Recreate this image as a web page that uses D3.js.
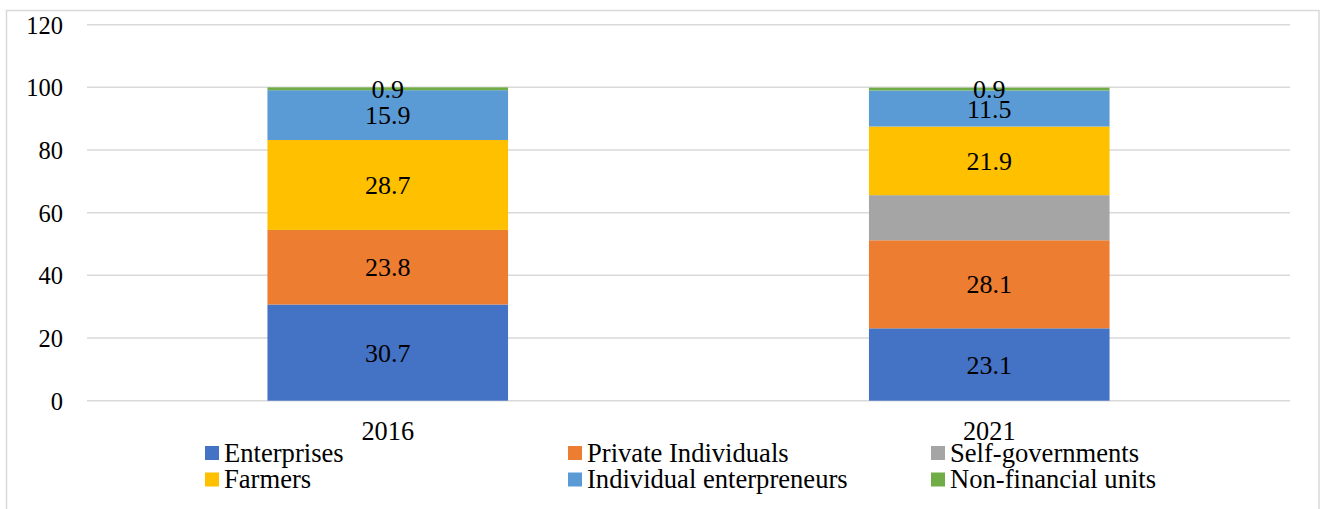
<!DOCTYPE html>
<html>
<head>
<meta charset="utf-8">
<script src="https://cdn.jsdelivr.net/npm/d3@7"></script>
<style>
  html, body { margin: 0; padding: 0; background: #fff; }
  svg { display: block; }
</style>
</head>
<body>
<svg id="chart" width="1320" height="509"></svg>
<script>
// Categories (years) and series shares, %
const years = ["2016", "2021"];
const seriesNames = ["Enterprises", "Private Individuals", "Self-governments",
                     "Farmers", "Individual enterpreneurs", "Non-financial units"];
const enterprises = [30.7, 23.1];
const privateIndividuals = [23.8, 28.1];
const selfGovernments = [0, 14.4];
const farmers = [28.7, 21.9];
const individualEntrepreneurs = [15.9, 11.5];
const nonFinancialUnits = [0.9, 0.9];
// Which segments carry a value label
const showLabel = [true, true, false, true, true, true];
const yTicks = [0, 20, 40, 60, 80, 100, 120];
const colors = ["#4472C4", "#ED7D31", "#A5A5A5", "#FFC000", "#5B9BD5", "#70AD47"];

const FONT = "'Liberation Serif', 'Times New Roman', serif";

const seriesValues = [enterprises, privateIndividuals, selfGovernments,
                      farmers, individualEntrepreneurs, nonFinancialUnits];

const table = years.map((yr, i) => {
  const row = { year: yr };
  seriesNames.forEach((s, k) => { row[s] = seriesValues[k][i]; });
  return row;
});

const svg = d3.select("#chart");

// Outer frame
svg.append("rect")
  .attr("x", 6.5).attr("y", 10.5)
  .attr("width", 1312.5).attr("height", 520)
  .attr("fill", "none").attr("stroke", "#d9d9d9").attr("stroke-width", 1.5);

const plot = { left: 87, right: 1290, top: 24.7, bottom: 400.7 };

const x = d3.scaleBand()
  .domain(years)
  .range([plot.left, plot.right])
  .paddingInner(0.6)
  .paddingOuter(0.3);

const y = d3.scaleLinear()
  .domain([0, 120])
  .range([plot.bottom, plot.top]);

// Gridlines
svg.append("g")
  .selectAll("line")
  .data(yTicks)
  .join("line")
  .attr("x1", plot.left).attr("x2", plot.right)
  .attr("y1", d => y(d)).attr("y2", d => y(d))
  .attr("stroke", "#d9d9d9").attr("stroke-width", 1.5);

// Y axis tick labels
const yAxis = svg.append("g")
  .attr("transform", `translate(${plot.left - 24},0)`)
  .call(d3.axisLeft(y).tickValues(yTicks).tickSize(0).tickPadding(0).tickFormat(d3.format("d")));
yAxis.attr("font-family", null).attr("font-size", null);
yAxis.select(".domain").remove();
yAxis.selectAll("text")
  .style("font-family", FONT)
  .style("font-size", "24.5px").attr("fill", "#000")
  .attr("dy", "0.34em");

// X axis category labels
const xAxis = svg.append("g")
  .attr("transform", `translate(0,${plot.bottom})`)
  .call(d3.axisBottom(x).tickSize(0).tickPadding(0));
xAxis.attr("font-family", null).attr("font-size", null);
xAxis.select(".domain").remove();
xAxis.selectAll("text")
  .style("font-family", FONT)
  .style("font-size", "26.3px").attr("fill", "#000")
  .attr("dy", null)
  .attr("y", 39.5);

// Stacked bars
const stacked = d3.stack().keys(seriesNames)(table);

const layers = svg.append("g")
  .selectAll("g")
  .data(stacked)
  .join("g")
  .attr("fill", (d, i) => colors[i]);

layers.selectAll("rect")
  .data(d => d)
  .join("rect")
  .attr("x", d => x(d.data.year))
  .attr("width", x.bandwidth())
  .attr("y", d => y(d[1]))
  .attr("height", d => y(d[0]) - y(d[1]));

// Value labels centred in each segment
stacked.forEach((layer, k) => {
  if (!showLabel[k]) return;
  svg.append("g")
    .selectAll("text")
    .data(layer)
    .join("text")
    .attr("x", d => x(d.data.year) + x.bandwidth() / 2)
    .attr("y", d => y((d[0] + d[1]) / 2))
    .attr("dy", "0.35em")
    .attr("text-anchor", "middle")
    .style("font-family", FONT)
    .style("font-size", "26px")
    .attr("fill", "#000")
    .text(d => d3.format(".1f")(d[1] - d[0]));
});

// Legend, three entries per row
const legend = svg.append("g");
const legX0 = 205, legColW = 363, legY0 = 453, legRowH = 26.5, sw = 14;
seriesNames.forEach((name, i) => {
  const col = i % 3, row = Math.floor(i / 3);
  const gx = legX0 + col * legColW, gy = legY0 + row * legRowH;
  legend.append("rect")
    .attr("x", gx).attr("y", gy - sw / 2)
    .attr("width", sw).attr("height", sw)
    .attr("fill", colors[i]);
  legend.append("text")
    .attr("x", gx + sw + 5).attr("y", gy)
    .attr("dy", "0.32em")
    .style("font-family", FONT)
    .style("font-size", "26.6px")
    .attr("fill", "#000")
    .text(name);
});
</script>
</body>
</html>
